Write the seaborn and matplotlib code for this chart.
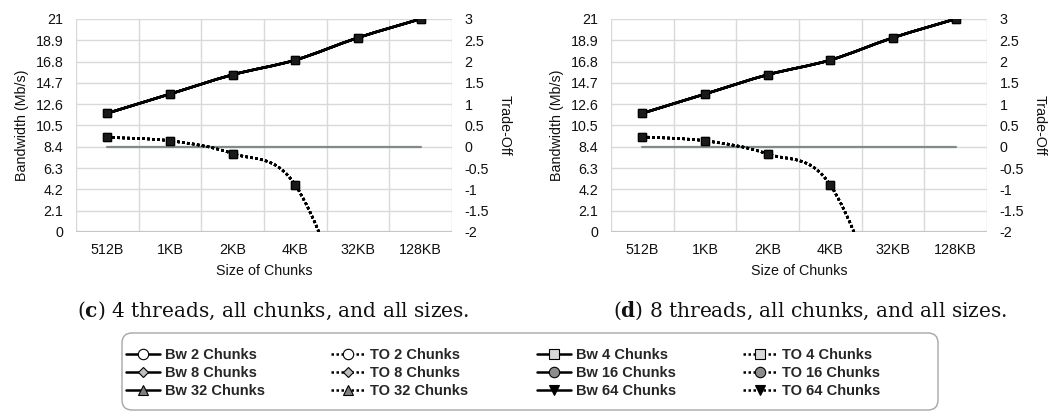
import numpy as np
import pandas as pd
import matplotlib
matplotlib.use("Agg")
import matplotlib.pyplot as plt
from matplotlib.path import Path
from matplotlib.patches import PathPatch, FancyBboxPatch
from matplotlib.lines import Line2D
from matplotlib import font_manager as fm
import seaborn as sns

# ---------------- data ----------------
sizes = ["512B", "1KB", "2KB", "4KB", "32KB", "128KB"]
chunks = [2, 4, 8, 16, 32, 64]
bw_4threads = [11.7, 13.6, 15.5, 16.95, 19.15, 21.0]
to_4threads = [0.22, 0.14, -0.16, -0.90, -4.6, -10.0]
bw_8threads = [11.7, 13.6, 15.5, 16.95, 19.15, 21.0]
to_8threads = [0.23, 0.14, -0.17, -0.90, -4.6, -10.0]
zero_line = [0, 0, 0, 0, 0, 0]
left_ticks = [0, 2.1, 4.2, 6.3, 8.4, 10.5, 12.6, 14.7, 16.8, 18.9, 21]
left_labels = ["0", "2.1", "4.2", "6.3", "8.4", "10.5", "12.6", "14.7", "16.8", "18.9", "21"]
right_ticks = [-2, -1.5, -1, -0.5, 0, 0.5, 1, 1.5, 2, 2.5, 3]
right_labels = ["-2", "-1.5", "-1", "-0.5", "0", "0.5", "1", "1.5", "2", "2.5", "3"]
captions = [("c", " 4 threads, all chunks, and all sizes."),
            ("d", " 8 threads, all chunks, and all sizes.")]

sns.set_theme(style="white")
plt.rcParams["font.family"] = ["Liberation Sans", "DejaVu Sans"]
plt.rcParams["mathtext.fontset"] = "custom"
plt.rcParams["mathtext.rm"] = "DejaVu Serif"
plt.rcParams["mathtext.bf"] = "DejaVu Serif:bold"

leg_prop = fm.FontProperties(family="Liberation Sans", weight="bold", size=10.5)

W, H = 1058, 412
fig = plt.figure(figsize=(W / 100, H / 100), dpi=100)

GRID = "#d9d9d9"
ZERO = "#7f8c8c"


def smooth_path(xs, ys):
    """Excel-style smoothed line (Bezier segments through the points)."""
    n = len(xs)
    P = np.column_stack([xs, ys]).astype(float)
    verts = [P[0]]
    codes = [Path.MOVETO]
    for i in range(n - 1):
        p_prev = P[i - 1] if i > 0 else P[i]
        p_next2 = P[i + 2] if i + 2 < n else P[i + 1]
        c1 = P[i] + (P[i + 1] - p_prev) / 6.0
        c2 = P[i + 1] - (p_next2 - P[i]) / 6.0
        verts += [c1, c2, P[i + 1]]
        codes += [Path.CURVE4] * 3
    return Path(verts, codes)


def panel(left, bw, to):
    ax = fig.add_axes([left, 0.437, 0.3554, 0.517])
    ax2 = ax.twinx()
    x = np.arange(len(sizes))

    # zero reference line
    zdf = pd.DataFrame({"x": x, "y": zero_line})
    sns.lineplot(data=zdf, x="x", y="y", ax=ax2, color=ZERO, lw=1.6, zorder=2)

    # smoothed lines (one per chunk series; all identical)
    for c in chunks:
        ax.add_patch(PathPatch(smooth_path(x, bw), fill=False, edgecolor="black",
                               lw=1.8, zorder=3, clip_on=True))
        ax2.add_patch(PathPatch(smooth_path(x, to), fill=False, edgecolor="black",
                                lw=1.8, ls=(0, (1, 1)), zorder=3, clip_on=True))

    # markers for all chunk series (identical values, drawn on top of each other)
    long_bw = pd.DataFrame({"x": np.tile(x, len(chunks)),
                            "y": np.tile(bw, len(chunks)),
                            "chunks": np.repeat(chunks, len(x))})
    long_to = pd.DataFrame({"x": np.tile(x, len(chunks)),
                            "y": np.tile(to, len(chunks)),
                            "chunks": np.repeat(chunks, len(x))})
    long_to = long_to[long_to["y"] >= -2]
    sns.scatterplot(data=long_bw, x="x", y="y", ax=ax, marker="s", s=28,
                    color="#1a1a1a", edgecolor="black", linewidth=0.8,
                    legend=False, zorder=4)
    sns.scatterplot(data=long_to, x="x", y="y", ax=ax2, marker="s", s=28,
                    color="#1a1a1a", edgecolor="black", linewidth=0.8,
                    legend=False, zorder=4)

    # axes styling
    ax.set_xlim(-0.5, len(sizes) - 0.5)
    ax.set_ylim(0, 21)
    ax2.set_ylim(-2, 3)
    ax.set_yticks(left_ticks)
    ax.set_yticklabels(left_labels)
    ax2.set_yticks(right_ticks)
    ax2.set_yticklabels(right_labels)
    ax.set_xticks(x)
    ax.set_xticklabels(sizes)
    for t in left_ticks[1:]:
        ax.axhline(t, color=GRID, lw=1.0, zorder=0)
    for b in np.arange(-0.5, len(sizes), 1.0):
        ax.axvline(b, color=GRID, lw=1.0, zorder=0)
    ax.axhline(0, color="#bfc8cc", lw=1.6, zorder=1)
    for a in (ax, ax2):
        for s in a.spines.values():
            s.set_visible(False)
        a.tick_params(length=0, labelsize=10.3, colors="#111111")
        a.grid(False)
    ax.tick_params(axis="y", pad=9)
    ax2.tick_params(axis="y", pad=9)
    ax.tick_params(axis="x", pad=8)
    ax.set_xlabel("Size of Chunks", fontsize=10.3, labelpad=5, color="#111111")
    ax.set_ylabel("Bandwidth (Mb/s)", fontsize=10.3, labelpad=5, color="#111111")
    ax2.set_ylabel("Trade-Off", fontsize=10.3, rotation=-90, labelpad=16,
                   color="#111111")
    return ax


ax_c = panel(0.0718, bw_4threads, to_4threads)
ax_d = panel(0.5775, bw_8threads, to_8threads)

# captions
for (letter, rest), xc in zip(captions, [273 / W, 810 / W]):
    fig.text(xc, 1 - 317 / H, r"($\mathbf{" + letter + r"}$)" + rest,
             ha="center", va="baseline", fontsize=14.5,
             family=["DejaVu Serif"], color="#111111")

# legend: frame
frame = FancyBboxPatch((1.22, 0.02), 8.16, 0.77,
                       boxstyle="round,pad=0,rounding_size=0.1",
                       transform=fig.dpi_scale_trans, facecolor="white",
                       edgecolor="#a6a6a6", lw=1.0, zorder=5)
fig.add_artist(frame)

markers = {2: ("o", "white"), 4: ("s", "#d9d9d9"), 8: ("D", "#bfbfbf"),
           16: ("o", "#8c8c8c"), 32: ("^", "#7f7f7f"), 64: ("v", "black")}
entries = []
for c in chunks:
    m, fc = markers[c]
    ms = 5.5 if m == "D" else 7.5
    entries.append((Line2D([0], [0], color="black", lw=1.8, marker=m, ms=ms,
                           mfc=fc, mec="black", mew=0.8), f"Bw {c} Chunks"))
    entries.append((Line2D([0], [0], color="black", lw=1.8, ls=(0, (1, 1)),
                           marker=m, ms=ms, mfc=fc, mec="black", mew=0.8),
                    f"TO {c} Chunks"))
col_x = [126, 331, 537, 743]
for col in range(4):
    col_entries = [entries[r * 4 + col] for r in range(3)]
    lg = fig.legend([e[0] for e in col_entries], [e[1] for e in col_entries],
                    loc="center left", bbox_to_anchor=(col_x[col] / W, 1 - 373 / H),
                    frameon=False, handlelength=2.3, handletextpad=0.35,
                    labelspacing=0.25, borderpad=0.0, borderaxespad=0.0,
                    prop=leg_prop)
    lg.set_zorder(6)

fig.savefig("out.png", dpi=100, facecolor="white")
